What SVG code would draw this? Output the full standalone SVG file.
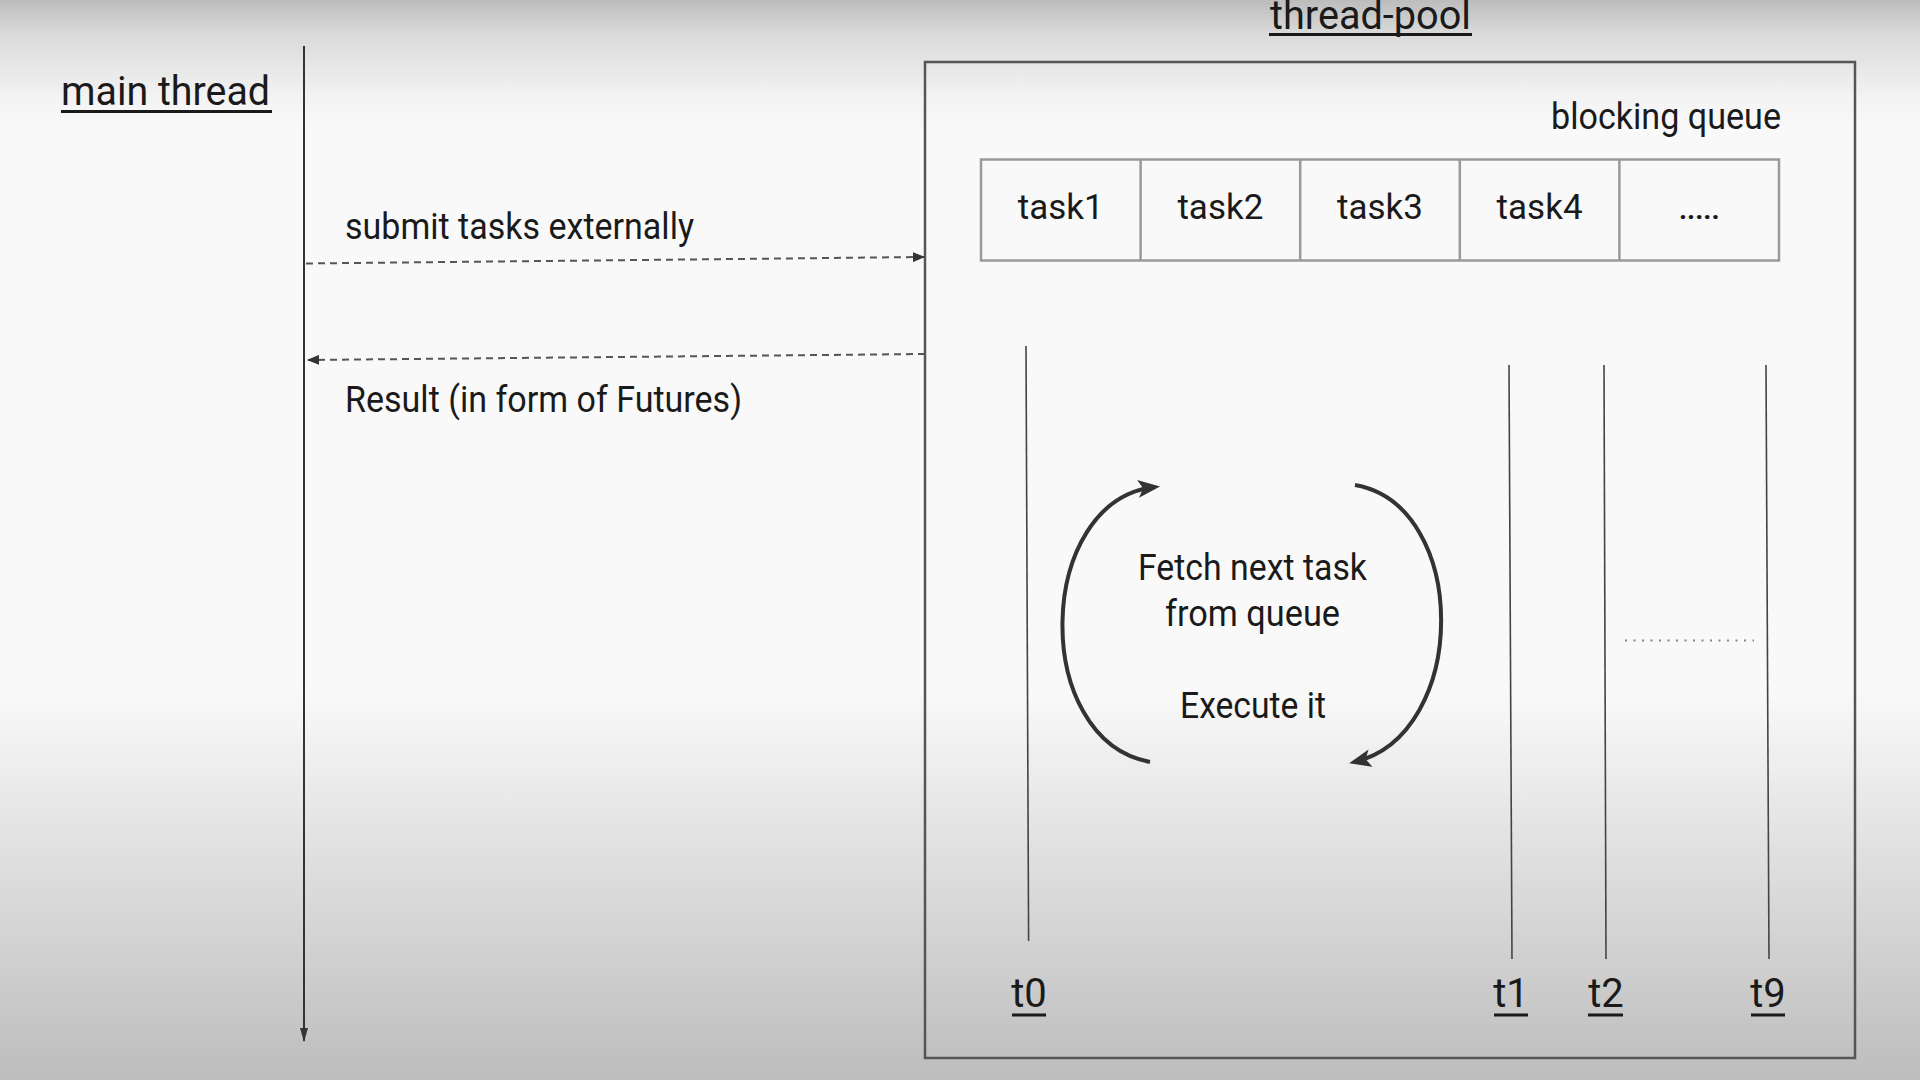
<svg xmlns="http://www.w3.org/2000/svg" width="1920" height="1080" viewBox="0 0 1920 1080">
  <style>
    .txt { font-family: Roboto, "Liberation Sans", sans-serif; fill: #1a1a1a; }
    .ul { stroke: #1a1a1a; stroke-width: 3; }
    .life { stroke: #444; stroke-width: 1.6; fill: none; }
    .dash { stroke: #555; stroke-width: 2; stroke-dasharray: 7 5; fill: none; }
    .cell { fill: none; stroke: #9a9a9a; stroke-width: 2.5; }
    .loop { fill: none; stroke: #333; stroke-width: 4; }
  </style>
  <defs>
    <linearGradient id="bg" x1="0" y1="0" x2="0" y2="1">
      <stop offset="0" stop-color="#bcbcbc"/>
      <stop offset="0.03" stop-color="#d9d9d9"/>
      <stop offset="0.09" stop-color="#f3f3f3"/>
      <stop offset="0.12" stop-color="#f9f9f9"/>
      <stop offset="0.64" stop-color="#f9f9f9"/>
      <stop offset="1" stop-color="#bdbdbd"/>
    </linearGradient>
    <marker id="arrSmall" viewBox="0 0 12 10" refX="11" refY="5" markerWidth="12" markerHeight="10" markerUnits="userSpaceOnUse" orient="auto">
      <path d="M0,0 L12,5 L0,10 z" fill="#333"/>
    </marker>
    <marker id="arrMain" viewBox="0 0 14 8" refX="13" refY="4" markerWidth="14" markerHeight="8" markerUnits="userSpaceOnUse" orient="auto">
      <path d="M0,0 L14,4 L0,8 z" fill="#333"/>
    </marker>
    <marker id="arrBig" viewBox="0 0 22 18" refX="17" refY="9" markerWidth="22" markerHeight="18" markerUnits="userSpaceOnUse" orient="auto">
      <path d="M0,0 L22,9 L0,18 L5,9 z" fill="#333"/>
    </marker>
  </defs>

  <rect x="0" y="0" width="1920" height="1080" fill="url(#bg)"/>

  <g id="main-thread">
    <text class="txt" x="61" y="105" font-size="41" textLength="209" lengthAdjust="spacingAndGlyphs">main thread</text>
    <line class="ul" x1="61" y1="111.5" x2="272" y2="111.5"/>
  </g>

  <g id="thread-pool">
    <rect x="925" y="62" width="930" height="996" fill="none" stroke="#555" stroke-width="2.5"/>
    <text class="txt" x="1270" y="29" font-size="41" textLength="201" lengthAdjust="spacingAndGlyphs">thread-pool</text>
    <line class="ul" x1="1269" y1="34.5" x2="1472" y2="34.5"/>
  </g>

  <g id="blocking-queue">
    <text class="txt" x="1551" y="129" font-size="36" textLength="230" lengthAdjust="spacingAndGlyphs">blocking queue</text>
    <rect class="cell" x="981" y="159.5" width="798" height="101"/>
    <line class="cell" x1="1140.6" y1="159.5" x2="1140.6" y2="260.5"/>
    <line class="cell" x1="1300.2" y1="159.5" x2="1300.2" y2="260.5"/>
    <line class="cell" x1="1459.8" y1="159.5" x2="1459.8" y2="260.5"/>
    <line class="cell" x1="1619.4" y1="159.5" x2="1619.4" y2="260.5"/>
    <g font-size="35" text-anchor="middle" class="txt">
      <text class="txt" x="1060.8" y="218.5">task1</text>
      <text class="txt" x="1220.4" y="218.5">task2</text>
      <text class="txt" x="1380" y="218.5">task3</text>
      <text class="txt" x="1539.6" y="218.5">task4</text>
      <text class="txt" x="1699.2" y="219" font-size="28" font-weight="bold">.....</text>
    </g>
  </g>

  <g id="worker-t0">
    <line class="life" x1="1026" y1="346" x2="1028.6" y2="941"/>
    <text class="txt" x="1029" y="1007" font-size="40" text-anchor="middle">t0</text>
    <line class="ul" x1="1012" y1="1015" x2="1046" y2="1015"/>
  </g>
  <g id="worker-t1">
    <line class="life" x1="1509" y1="365" x2="1512" y2="959"/>
    <text class="txt" x="1511" y="1007" font-size="40" text-anchor="middle">t1</text>
    <line class="ul" x1="1494" y1="1015" x2="1528" y2="1015"/>
  </g>
  <g id="worker-t2">
    <line class="life" x1="1604" y1="365" x2="1606" y2="959"/>
    <text class="txt" x="1606" y="1007" font-size="40" text-anchor="middle">t2</text>
    <line class="ul" x1="1588" y1="1015" x2="1623" y2="1015"/>
  </g>
  <g id="worker-t9">
    <line class="life" x1="1766" y1="365" x2="1769" y2="959"/>
    <text class="txt" x="1768" y="1007" font-size="40" text-anchor="middle">t9</text>
    <line class="ul" x1="1751" y1="1015" x2="1785" y2="1015"/>
  </g>

  <g id="worker-loop">
    <text class="txt" x="1138" y="580" font-size="36" textLength="229" lengthAdjust="spacingAndGlyphs">Fetch next task</text>
    <text class="txt" x="1165" y="626" font-size="36" textLength="175" lengthAdjust="spacingAndGlyphs">from queue</text>
    <text class="txt" x="1180" y="718" font-size="36" textLength="146" lengthAdjust="spacingAndGlyphs">Execute it</text>
  </g>

  <g id="connectors">
    <line x1="304" y1="46" x2="304" y2="1041" stroke="#333" stroke-width="2" marker-end="url(#arrMain)"/>
    <line class="dash" x1="306" y1="263.5" x2="924" y2="257" marker-end="url(#arrSmall)"/>
    <line class="dash" x1="925" y1="354" x2="308" y2="360" marker-end="url(#arrSmall)"/>
    <text class="txt" x="345" y="238.5" font-size="36" textLength="349" lengthAdjust="spacingAndGlyphs">submit tasks externally</text>
    <text class="txt" x="345" y="411.5" font-size="36" textLength="397" lengthAdjust="spacingAndGlyphs">Result (in form of Futures)</text>
    <path class="loop" d="M1150,762 C1030,740 1035,500 1155,487" marker-end="url(#arrBig)"/>
    <path class="loop" d="M1355,485 C1470,505 1470,735 1354,762" marker-end="url(#arrBig)"/>
    <line x1="1625" y1="640.5" x2="1754" y2="640.5" stroke="#888" stroke-width="2" stroke-dasharray="2 6.5"/>
  </g>
</svg>
